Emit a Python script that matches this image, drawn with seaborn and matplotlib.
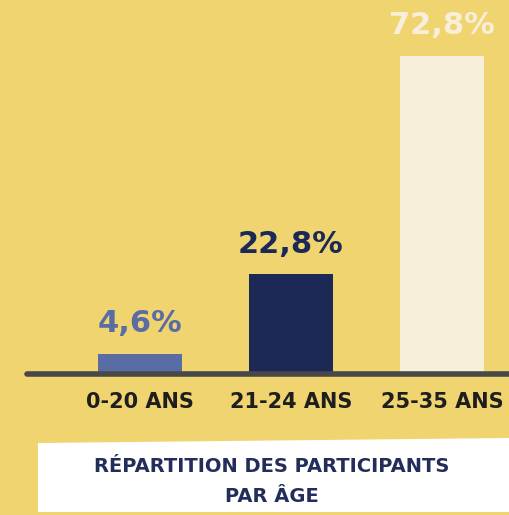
import matplotlib
matplotlib.use("Agg")
import matplotlib.pyplot as plt
import seaborn as sns
import pandas as pd
from matplotlib.patches import Polygon

categories = ["0-20 ans", "21-24 ans", "25-35 ans"]
values = [4.6, 22.8, 72.8]
value_labels = ["4,6%", "22,8%", "72,8%"]
bar_colors = ["#5A6CA4", "#1C2856", "#F8EFDA"]
title_lines = ["RÉPARTITION DES PARTICIPANTS", "PAR ÂGE"]

BG = "#F0D470"
sns.set_theme(style="white")
plt.rcParams["font.family"] = ["DejaVu Sans"]

W, H = 510, 515
fig = plt.figure(figsize=(W / 100, H / 100), dpi=100, facecolor=BG)
ax = fig.add_axes([0, 0, 1, 1])
ax.set_facecolor(BG)

df = pd.DataFrame({"cat": categories, "val": values})
sns.barplot(data=df, x="cat", y="val", hue="cat", palette=bar_colors,
            width=0.55, legend=False, ax=ax, saturation=1, linewidth=0)

# pixel mapping: centers at 140, 291, 442 px; baseline at y=374 from top
px_per_cat = 151.0
ax.set_xlim(-140 / px_per_cat, (W - 140) / px_per_cat)
px_per_unit = 318 / 72.8
base_from_bottom = H - 374
ax.set_ylim(-base_from_bottom / px_per_unit, (H - base_from_bottom) / px_per_unit)
ax.axis("off")

# baseline brush stroke
ax.plot([(27 - 140) / px_per_cat, (W - 140) / px_per_cat], [0, 0],
        color="#484848", lw=4, solid_capstyle="round", zorder=3)

def dy(px):
    return px / px_per_unit

for i, (v, lab, c) in enumerate(zip(values, value_labels, bar_colors)):
    ax.text(i, v + dy(30), lab, ha="center", va="center", fontsize=22,
            fontweight="bold", color=c)
    ax.text(i, -dy(28), categories[i].upper(), ha="center", va="center",
            fontsize=15, fontweight="bold", color="#1E1E1E")

# white title box (slightly skewed)
box = Polygon([(38, H - 443), (W, H - 438), (W, H - 512), (38, H - 512)],
              closed=True, transform=None, facecolor="white", edgecolor="none",
              zorder=4)
fig.patches.append(box)
fig.text(272 / W, 1 - 466 / H, title_lines[0], ha="center", va="center",
         fontsize=14, fontweight="bold", color="#232D5A", zorder=5)
fig.text(272 / W, 1 - 497 / H, title_lines[1], ha="center", va="center",
         fontsize=14, fontweight="bold", color="#232D5A", zorder=5)

fig.savefig("out.png", dpi=100, facecolor=BG)
